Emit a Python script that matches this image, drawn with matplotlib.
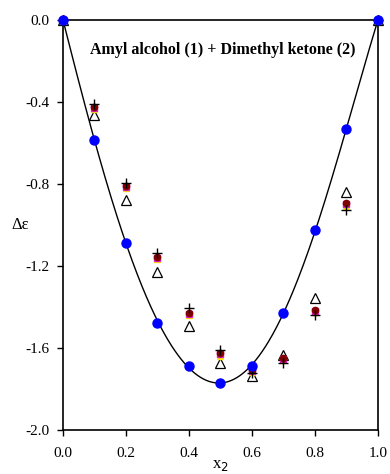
import numpy as np
import matplotlib.pyplot as plt

plt.rcParams['font.family'] = ['Liberation Serif', 'DejaVu Serif']
plt.rcParams['axes.unicode_minus'] = False

# mole fraction of dimethyl ketone
x2 = [0.0, 0.1, 0.2, 0.3, 0.4, 0.5, 0.6, 0.7, 0.8, 0.9, 1.0]

# experimental (blue) and the predicted sets
exp_de = [0.0, -0.585, -1.088, -1.476, -1.688, -1.769, -1.688, -1.431, -1.024, -0.533, 0.0]
maroon_de = [0.0, -0.426, -0.81, -1.154, -1.428, -1.626, -1.707, -1.65, -1.415, -0.894, 0.0]
magenta_de = [0.0, -0.43, -0.815, -1.16, -1.432, -1.63, -1.71, -1.655, -1.42, -0.898, 0.0]
yellow_de = [0.0, -0.435, -0.82, -1.165, -1.44, -1.64, -1.715, -1.66, -1.425, -0.905, 0.0]
plus_de = [0.0, -0.41, -0.794, -1.135, -1.407, -1.61, -1.72, -1.672, -1.439, -0.927, 0.0]
tri_de = [0.0, -0.463, -0.878, -1.228, -1.493, -1.672, -1.735, -1.634, -1.358, -0.837, 0.0]

xticks = [0.0, 0.2, 0.4, 0.6, 0.8, 1.0]
xlabels = ['0.0', '0.2', '0.4', '0.6', '0.8', '1.0']
yticks = [-2.0, -1.6, -1.2, -0.8, -0.4, 0.0]
ylabels = ['-2.0', '-1.6', '-1.2', '-0.8', '-0.4', '0.0']

# Redlich-Kister fit through the experimental points
x = np.array(x2)
y = np.array(exp_de)
x1 = 1 - x
A = np.column_stack([x1 * x * (x1 - x) ** k for k in range(5)])
coef = np.linalg.lstsq(A, y, rcond=None)[0]
xf = np.linspace(0, 1, 300)
Af = np.column_stack([(1 - xf) * xf * ((1 - xf) - xf) ** k for k in range(5)])
yf = Af @ coef

fig = plt.figure(figsize=(3.9, 4.74), dpi=100)
ax = fig.add_axes([0.1615, 0.0928, 0.8077, 0.865])

ax.plot(xf, yf, color='black', lw=1.0, zorder=2)
ax.plot(x2, tri_de, ls='none', marker='^', ms=7, mfc='white', mec='black', mew=0.9, clip_on=False, zorder=3)
ax.plot(x2, yellow_de, ls='none', marker='^', ms=5, color='#ffee00', clip_on=False, zorder=4)
ax.plot(x2, magenta_de, ls='none', marker='s', ms=4.5, color='#e020c0', clip_on=False, zorder=5)
ax.plot(x2, maroon_de, ls='none', marker='o', ms=4.5, color='#800000', clip_on=False, zorder=6)
ax.plot(x2, plus_de, ls='none', marker='+', ms=7, color='black', mew=1.0, clip_on=False, zorder=7)
ax.plot(x2, exp_de, ls='none', marker='o', ms=6.5, color='#0000ff', clip_on=False, zorder=8)

ax.set_xlim(0, 1)
ax.set_ylim(-2.0, 0.0)
ax.set_xticks(xticks, xlabels)
ax.set_yticks(yticks, ylabels)
ax.tick_params(direction='out', length=4, width=1, labelsize=11)
ax.tick_params(axis='x', pad=8)
ax.tick_params(axis='y', pad=6)
for s in ax.spines.values():
    s.set_linewidth(1.2)

ax.text(0.5, -0.085, 'x$_2$', transform=ax.transAxes, ha='center', va='center', fontsize=12)
ax.text(-0.137, 0.5, 'Δε', transform=ax.transAxes, ha='center', va='center', fontsize=12)
ax.text(0.508, 0.927, 'Amyl alcohol (1) + Dimethyl ketone (2)', transform=ax.transAxes,
        ha='center', va='center', fontsize=11.5, fontweight='bold')

fig.savefig('out.png', dpi=100)
